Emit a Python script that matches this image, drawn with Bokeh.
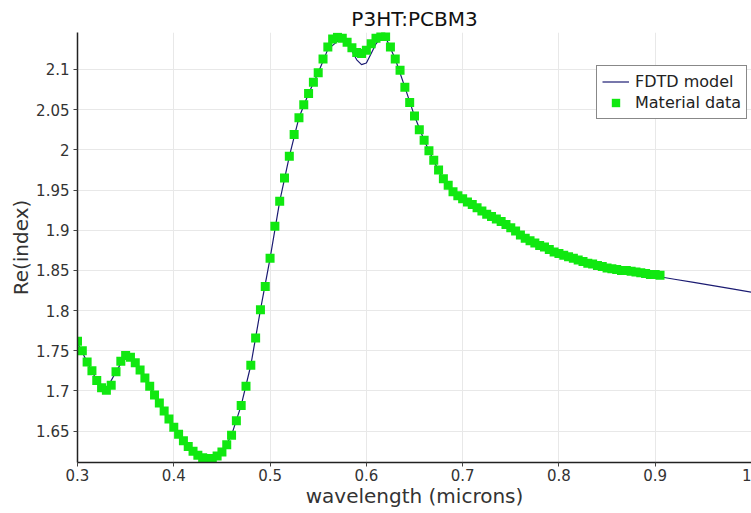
from bokeh.plotting import figure
from bokeh.models import Range1d, FixedTicker, Legend, LegendItem
from bokeh.embed import file_html
from bokeh.resources import INLINE

# ---- data ----
data_wavelength = [
    0.300, 0.305, 0.310, 0.315, 0.320, 0.325, 0.330, 0.335, 0.340, 0.345,
    0.350, 0.355, 0.360, 0.365, 0.370, 0.375, 0.380, 0.385, 0.390, 0.395,
    0.400, 0.405, 0.410, 0.415, 0.420, 0.425, 0.430, 0.435, 0.440, 0.445,
    0.450, 0.455, 0.460, 0.465, 0.470, 0.475, 0.480, 0.485, 0.490, 0.495,
    0.500, 0.505, 0.510, 0.515, 0.520, 0.525, 0.530, 0.535, 0.540, 0.545,
    0.550, 0.555, 0.560, 0.565, 0.570, 0.575, 0.580, 0.585, 0.590, 0.595,
    0.600, 0.605, 0.610, 0.615, 0.620, 0.625, 0.630, 0.635, 0.640, 0.645,
    0.650, 0.655, 0.660, 0.665, 0.670, 0.675, 0.680, 0.685, 0.690, 0.695,
    0.700, 0.705, 0.710, 0.715, 0.720, 0.725, 0.730, 0.735, 0.740, 0.745,
    0.750, 0.755, 0.760, 0.765, 0.770, 0.775, 0.780, 0.785, 0.790, 0.795,
    0.800, 0.805, 0.810, 0.815, 0.820, 0.825, 0.830, 0.835, 0.840, 0.845,
    0.850, 0.855, 0.860, 0.865, 0.870, 0.875, 0.880, 0.885, 0.890, 0.895,
    0.900, 0.905,
]
data_index = [
    1.762, 1.750, 1.736, 1.725, 1.713, 1.704, 1.701, 1.707, 1.724, 1.737,
    1.744, 1.742, 1.735, 1.726, 1.716, 1.706, 1.695, 1.685, 1.675, 1.665,
    1.655, 1.646, 1.638, 1.631, 1.625, 1.620, 1.617, 1.616, 1.616, 1.619,
    1.624, 1.633, 1.645, 1.663, 1.682, 1.706, 1.732, 1.766, 1.801, 1.830,
    1.865, 1.905, 1.936, 1.965, 1.992, 2.019, 2.040, 2.056, 2.070, 2.084,
    2.096, 2.113, 2.128, 2.138, 2.140, 2.139, 2.134, 2.127, 2.121, 2.120,
    2.124, 2.132, 2.139, 2.141, 2.141, 2.128, 2.113, 2.099, 2.078, 2.059,
    2.042, 2.025, 2.012, 1.999, 1.987, 1.975, 1.964, 1.956, 1.948, 1.943,
    1.939, 1.935, 1.932, 1.928, 1.924, 1.920, 1.917, 1.914, 1.911, 1.907,
    1.903, 1.899, 1.894, 1.890, 1.887, 1.884, 1.881, 1.879, 1.876, 1.873,
    1.871, 1.869, 1.867, 1.865, 1.863, 1.861, 1.859, 1.858, 1.856, 1.855,
    1.853, 1.852, 1.851, 1.850, 1.850, 1.849, 1.848, 1.847, 1.846, 1.845,
    1.845, 1.844,
]

model_wavelength = [
    0.30, 0.31, 0.32, 0.33, 0.34, 0.35, 0.36, 0.37, 0.38, 0.39,
    0.40, 0.41, 0.42, 0.43, 0.44, 0.45, 0.46, 0.47, 0.48, 0.49,
    0.50, 0.51, 0.52, 0.53, 0.54, 0.55, 0.56, 0.57, 0.575, 0.58, 0.585,
    0.59, 0.595, 0.60, 0.605, 0.61, 0.615, 0.62, 0.63, 0.64, 0.65,
    0.66, 0.67, 0.68, 0.69, 0.70, 0.71, 0.72, 0.73, 0.74, 0.75,
    0.76, 0.77, 0.78, 0.79, 0.80, 0.81, 0.82, 0.83, 0.84, 0.85,
    0.86, 0.87, 0.88, 0.89, 0.90, 0.92, 0.94, 0.96, 0.98, 1.00,
]
model_index = [
    1.760, 1.736, 1.713, 1.702, 1.724, 1.744, 1.735, 1.716, 1.695, 1.675,
    1.655, 1.638, 1.625, 1.617, 1.616, 1.624, 1.645, 1.682, 1.732, 1.801,
    1.865, 1.936, 1.992, 2.040, 2.070, 2.096, 2.125, 2.135, 2.136, 2.132, 2.123,
    2.112, 2.106, 2.108, 2.120, 2.132, 2.139, 2.140, 2.113, 2.078, 2.042,
    2.012, 1.986, 1.963, 1.948, 1.939, 1.932, 1.924, 1.917, 1.911, 1.903,
    1.894, 1.887, 1.881, 1.876, 1.871, 1.867, 1.863, 1.859, 1.856, 1.853,
    1.851, 1.849, 1.847, 1.845, 1.843, 1.839, 1.835, 1.831, 1.827, 1.823,
]

x_ticks = [0.3, 0.4, 0.5, 0.6, 0.7, 0.8, 0.9, 1.0]
x_tick_labels = ["0.3", "0.4", "0.5", "0.6", "0.7", "0.8", "0.9", "1"]
y_ticks = [1.65, 1.7, 1.75, 1.8, 1.85, 1.9, 1.95, 2.0, 2.05, 2.1]
y_tick_labels = ["1.65", "1.7", "1.75", "1.8", "1.85", "1.9", "1.95", "2", "2.05", "2.1"]

FONT = "DejaVu Sans"

p = figure(
    width=751, height=513,
    output_backend="svg", toolbar_location=None,
    x_range=Range1d(0.3, 1.0), y_range=Range1d(1.611, 2.146),
    min_border_left=77, min_border_right=0, min_border_top=32, min_border_bottom=51,
    title="P3HT:PCBM3",
)
p.outline_line_color = None
p.background_fill_color = "white"

p.title.align = "center"
p.title.text_font = FONT
p.title.text_font_style = "normal"
p.title.text_font_size = "20px"
p.title.text_color = "#111111"
p.title.offset = 0
p.title.standoff = 3

line_r = p.line(model_wavelength, model_index, line_color="#1b1b72", line_width=1.2)
pts_r = p.scatter(data_wavelength, data_index, marker="square", size=9,
                  fill_color="#10e810", line_color="#10e810", line_width=0)

p.xaxis.ticker = FixedTicker(ticks=x_ticks)
p.yaxis.ticker = FixedTicker(ticks=y_ticks)
p.xaxis.major_label_overrides = {t: l for t, l in zip(x_ticks, x_tick_labels)}
p.yaxis.major_label_overrides = {t: l for t, l in zip(y_ticks, y_tick_labels)}
p.xaxis.axis_label = "wavelength (microns)"
p.yaxis.axis_label = "Re(index)"

for ax in (p.xaxis[0], p.yaxis[0]):
    ax.axis_line_color = "#222222"
    ax.axis_line_width = 1.5
    ax.major_tick_line_color = "#444444"
    ax.major_tick_out = 4
    ax.major_tick_in = 0
    ax.minor_tick_line_color = None
    ax.major_label_text_font = FONT
    ax.major_label_text_font_size = "15px"
    ax.major_label_text_color = "#333333"
    ax.axis_label_text_font = FONT
    ax.axis_label_text_font_size = "20px"
    ax.axis_label_text_font_style = "normal"
    ax.axis_label_text_color = "#333333"
p.xaxis.major_label_standoff = 2
p.xaxis.axis_label_standoff = 0
p.yaxis.major_label_standoff = 4
p.yaxis.axis_label_standoff = 0

p.xgrid.grid_line_color = "#e8e8e8"
p.ygrid.grid_line_color = "#e8e8e8"

legend = Legend(items=[
    LegendItem(label="FDTD model", renderers=[line_r]),
    LegendItem(label="Material data", renderers=[pts_r]),
], location=(519, 343))
legend.label_text_font = FONT
legend.label_text_font_size = "16px"
legend.label_text_color = "#222222"
legend.border_line_color = "#111111"
legend.border_line_width = 1
legend.background_fill_alpha = 1.0
legend.padding = 5
legend.spacing = 0
legend.margin = 0
legend.glyph_width = 27
legend.glyph_height = 21
legend.label_height = 21
legend.label_standoff = 6
p.add_layout(legend, "center")

open("out.html", "w").write(file_html(p, INLINE))
